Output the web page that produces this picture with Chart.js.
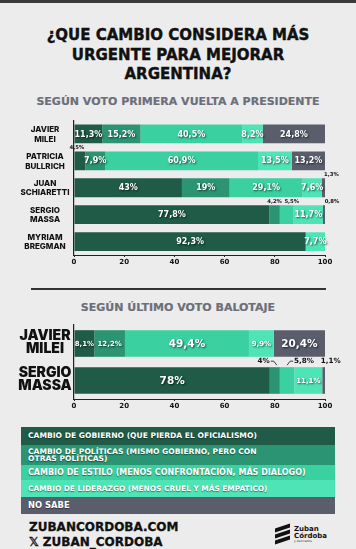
<!DOCTYPE html>
<html><head><meta charset="utf-8">
<script src="https://cdn.jsdelivr.net/npm/chart.js@4.4.1/dist/chart.umd.min.js"></script>
<style>
html,body{margin:0;padding:0}
body{width:356px;height:549px;background:#ececec;font-family:'DejaVu Sans',sans-serif;position:relative;overflow:hidden}
.abs{position:absolute}
#topbar{left:0;top:0;width:356px;height:3px;background:#3a3a3a}
#title{left:0;top:26px;width:356px;text-align:center;font-size:15px;line-height:19.5px;font-weight:700;color:#111;-webkit-text-stroke:0.4px #111}
.sub{left:0;width:356px;text-align:center;font-size:11px;line-height:14px;font-weight:700;color:#6b6f79;-webkit-text-stroke:0.2px #6b6f79}
#sep{left:31px;top:288px;width:295px;height:2px;background:#333}
#legend{left:21px;top:427px;width:314px}
.row{color:#fff;font-weight:700;display:flex;align-items:center;padding-left:7px;box-sizing:border-box;text-shadow:0 1px 1px rgba(0,0,0,.45)}
#foot1,#foot2{left:29px;font-size:12px;line-height:15px;font-weight:700;color:#111;-webkit-text-stroke:0.3px #111}
#logo{left:275px;top:526px;width:60px;height:20px}
canvas{position:absolute;left:0}
</style></head><body>
<div id="topbar" class="abs"></div>
<div id="title" class="abs">¿QUE CAMBIO CONSIDERA MÁS<br>URGENTE PARA MEJORAR<br>ARGENTINA?</div>
<div class="abs sub" style="top:94.5px">SEGÚN VOTO PRIMERA VUELTA A PRESIDENTE</div>
<canvas id="c1" width="356" height="160" style="top:112px;width:356px;height:160px"></canvas>
<div id="sep" class="abs"></div>
<div class="abs sub" style="top:300.5px">SEGÚN ÚLTIMO VOTO BALOTAJE</div>
<canvas id="c2" width="356" height="100" style="top:315px;width:356px;height:100px"></canvas>
<div id="legend" class="abs"></div>
<div id="foot1" class="abs" style="top:519.5px">ZUBANCORDOBA.COM</div>
<div id="foot2" class="abs" style="top:534.5px">𝕏 ZUBAN_CORDOBA</div>
<div id="logo" class="abs">
  <div class="abs" style="left:0;top:0;width:15px;height:4px;background:#111;transform:skewY(-18deg)"></div>
  <div class="abs" style="left:0;top:6px;width:15px;height:4px;background:#111;transform:skewY(-18deg)"></div>
  <div class="abs" style="left:0;top:12px;width:15px;height:4px;background:#111;transform:skewY(-18deg)"></div>
  <div class="abs" style="left:19px;top:0px;font-size:7px;line-height:7px;font-weight:700;color:#111">Zuban</div>
  <div class="abs" style="left:19px;top:7px;font-size:7px;line-height:7px;font-weight:700;color:#111">Córdoba</div>
  <div class="abs" style="left:19px;top:14px;font-size:3px;line-height:3px;color:#333">y Asociados</div>
</div>
<script>
// ---- data ----
const seriesNames = [
  'CAMBIO DE GOBIERNO (QUE PIERDA EL OFICIALISMO)',
  'CAMBIO DE POLÍTICAS (MISMO GOBIERNO, PERO CON OTRAS POLÍTICAS)',
  'CAMBIO DE ESTILO (MENOS CONFRONTACIÓN, MÁS DIALOGO)',
  'CAMBIO DE LIDERAZGO (MENOS CRUEL Y MÁS EMPATICO)',
  'NO SABE'
];
const seriesColors = ['#1f5b46', '#2b9473', '#3ad0a0', '#4fe4b6', '#5a5e6c'];

const categories1 = [['JAVIER','MILEI'], ['PATRICIA','BULLRICH'], ['JUAN','SCHIARETTI'], ['SERGIO','MASSA'], ['MYRIAM','BREGMAN']];
const gobierno1   = [11.3, 4.5, 43, 77.8, 92.3];
const politicas1  = [15.2, 7.9, 19, 4.2, 0];
const estilo1     = [40.5, 60.9, 29.1, 5.5, 0];
const liderazgo1  = [8.2, 13.5, 7.6, 11.7, 7.7];
const noSabe1     = [24.8, 13.2, 1.3, 0.8, 0];

const categories2 = [['JAVIER','MILEI'], ['SERGIO','MASSA']];
const gobierno2   = [8.1, 78];
const politicas2  = [12.2, 4];
const estilo2     = [49.4, 5.8];
const liderazgo2  = [9.9, 11.1];
const noSabe2     = [20.4, 1.1];

const xTickValues = [0, 20, 40, 60, 80, 100];

// ---- legend ----
const legendRows = [
  {h:18, fs:7.6, text:seriesNames[0]},
  {h:20, fs:7.6, text:'CAMBIO DE POLÍTICAS (MISMO GOBIERNO, PERO CON<br>OTRAS POLÍTICAS)', lh:7.5},
  {h:15, fs:8.0, text:seriesNames[2]},
  {h:17, fs:7.4, text:seriesNames[3]},
  {h:17, fs:8.4, text:seriesNames[4]}
];
const lg = document.getElementById('legend');
legendRows.forEach((r, i) => {
  const d = document.createElement('div');
  d.className = 'row';
  d.style.height = r.h + 'px';
  d.style.background = seriesColors[i];
  d.style.fontSize = r.fs + 'px';
  d.style.lineHeight = (r.lh || r.h) + 'px';
  d.innerHTML = '<span>' + r.text + '</span>';
  lg.appendChild(d);
});

// ---- helpers ----
const fmt = v => String(v).replace('.', ',') + '%';
const LABEL_FONT = '"DejaVu Sans", sans-serif';

const segLabels = {
  id: 'segLabels',
  afterDatasetsDraw(chart, args, opts) {
    const ctx = chart.ctx;
    chart.data.datasets.forEach((ds, di) => {
      const meta = chart.getDatasetMeta(di);
      meta.data.forEach((bar, i) => {
        const v = ds.data[i];
        if (!v) return;
        const p = bar.getProps(['x', 'y', 'base', 'height'], true);
        const cx = (p.x + p.base) / 2;
        const out = opts.outside[di + ':' + i];
        ctx.save();
        if (!out) {
          const fs = opts.insideSize(v);
          ctx.font = 'bold ' + fs + 'px ' + LABEL_FONT;
          ctx.fillStyle = '#ffffff';
          ctx.textAlign = 'center';
          ctx.textBaseline = 'middle';
          ctx.shadowColor = 'rgba(0,0,0,0.65)';
          ctx.shadowBlur = 2;
          ctx.shadowOffsetX = 1;
          ctx.shadowOffsetY = 1;
          ctx.fillText(fmt(v), cx, p.y + 0.5);
        } else {
          const top = p.y - p.height / 2;
          const y = top - opts.outsideGap;
          ctx.font = 'bold ' + opts.outsideSize + 'px ' + LABEL_FONT;
          ctx.fillStyle = '#111';
          ctx.strokeStyle = '#111';
          ctx.lineWidth = 0.8;
          ctx.textBaseline = 'middle';
          ctx.textAlign = out.align || 'center';
          ctx.fillText(fmt(v), cx + out.dx, y);
          if (out.leader === 'right') {
            ctx.beginPath();
            ctx.moveTo(cx - 4, y); ctx.lineTo(cx - 1, y); ctx.lineTo(cx + 2, y + 4);
            ctx.stroke();
          } else if (out.leader === 'left') {
            ctx.beginPath();
            ctx.moveTo(cx, y + 4); ctx.lineTo(cx + 3, y); ctx.lineTo(cx + 6, y);
            ctx.stroke();
          }
        }
        ctx.restore();
      });
    });
  }
};

// category names drawn at the library's own y-scale positions
const catLabels = {
  id: 'catLabels',
  afterDraw(chart, args, opts) {
    const ys = chart.scales.y;
    const ctx = chart.ctx;
    ctx.save();
    ctx.font = opts.font;
    ctx.fillStyle = '#111';
    ctx.textAlign = 'center';
    ctx.textBaseline = 'middle';
    chart.data.labels.forEach((lab, i) => {
      const cy = ys.getPixelForValue(i);
      const n = lab.length;
      lab.forEach((line, j) => {
        ctx.fillText(line, opts.x, cy + (j - (n - 1) / 2) * opts.lh + opts.dy);
      });
    });
    ctx.restore();
  }
};

function makeDatasets(arrs, barPct) {
  return arrs.map((a, k) => ({
    label: seriesNames[k],
    data: a,
    backgroundColor: seriesColors[k],
    borderWidth: 0,
    barPercentage: barPct,
    categoryPercentage: 1
  }));
}

function makeChart(id, labels, arrs, cfg) {
  return new Chart(document.getElementById(id), {
    type: 'bar',
    data: { labels: labels, datasets: makeDatasets(arrs, cfg.barPct) },
    plugins: [segLabels, catLabels],
    options: {
      indexAxis: 'y',
      responsive: false,
      animation: false,
      devicePixelRatio: 1,
      layout: { padding: { left: 0, right: 31, top: cfg.padTop, bottom: cfg.padBottom } },
      plugins: {
        legend: { display: false },
        tooltip: { enabled: false },
        segLabels: cfg.labels,
        catLabels: cfg.cats
      },
      scales: {
        x: {
          stacked: true, min: 0, max: 100,
          afterBuildTicks: s => { s.ticks = xTickValues.map(v => ({ value: v })); },
          grid: { drawOnChartArea: false, drawTicks: true, tickLength: 2, color: '#222' },
          border: { display: true, color: '#222', width: 1 },
          ticks: { padding: 1, color: '#111', font: { size: 7, weight: 'bold', family: 'DejaVu Sans' } }
        },
        y: {
          stacked: true,
          afterFit: s => { s.width = 74; },
          grid: { display: false, drawTicks: false },
          border: { display: true, color: '#222', width: 1.2 },
          ticks: { display: false }
        }
      }
    }
  });
}

makeChart('c1', categories1, [gobierno1, politicas1, estilo1, liderazgo1, noSabe1], {
  barPct: 0.70, padTop: 8.5, padBottom: 4.6,
  cats: { font: '800 8px Inter, sans-serif', x: 45, lh: 9.5, dy: 0.5 },
  labels: {
    insideSize: v => 8,
    outsideSize: 5.3, outsideGap: 4,
    outside: {
      '0:1': { dx: -3 },
      '4:2': { dx: 8 },
      '1:3': { dx: 0 },
      '2:3': { dx: 5 },
      '4:3': { dx: 8 }
    }
  }
});

makeChart('c2', categories2, [gobierno2, politicas2, estilo2, liderazgo2, noSabe2], {
  barPct: 0.72, padTop: 10, padBottom: 3.6,
  cats: { font: '900 14px Inter, sans-serif', x: 45, lh: 13.5, dy: -1 },
  labels: {
    insideSize: v => (v >= 15 ? 10.5 : 7),
    outsideSize: 7.2, outsideGap: 6,
    outside: {
      '1:1': { dx: -5, align: 'right', leader: 'right' },
      '2:1': { dx: 7, align: 'left', leader: 'left' },
      '4:1': { dx: 7 }
    }
  }
});
</script>
</body></html>
